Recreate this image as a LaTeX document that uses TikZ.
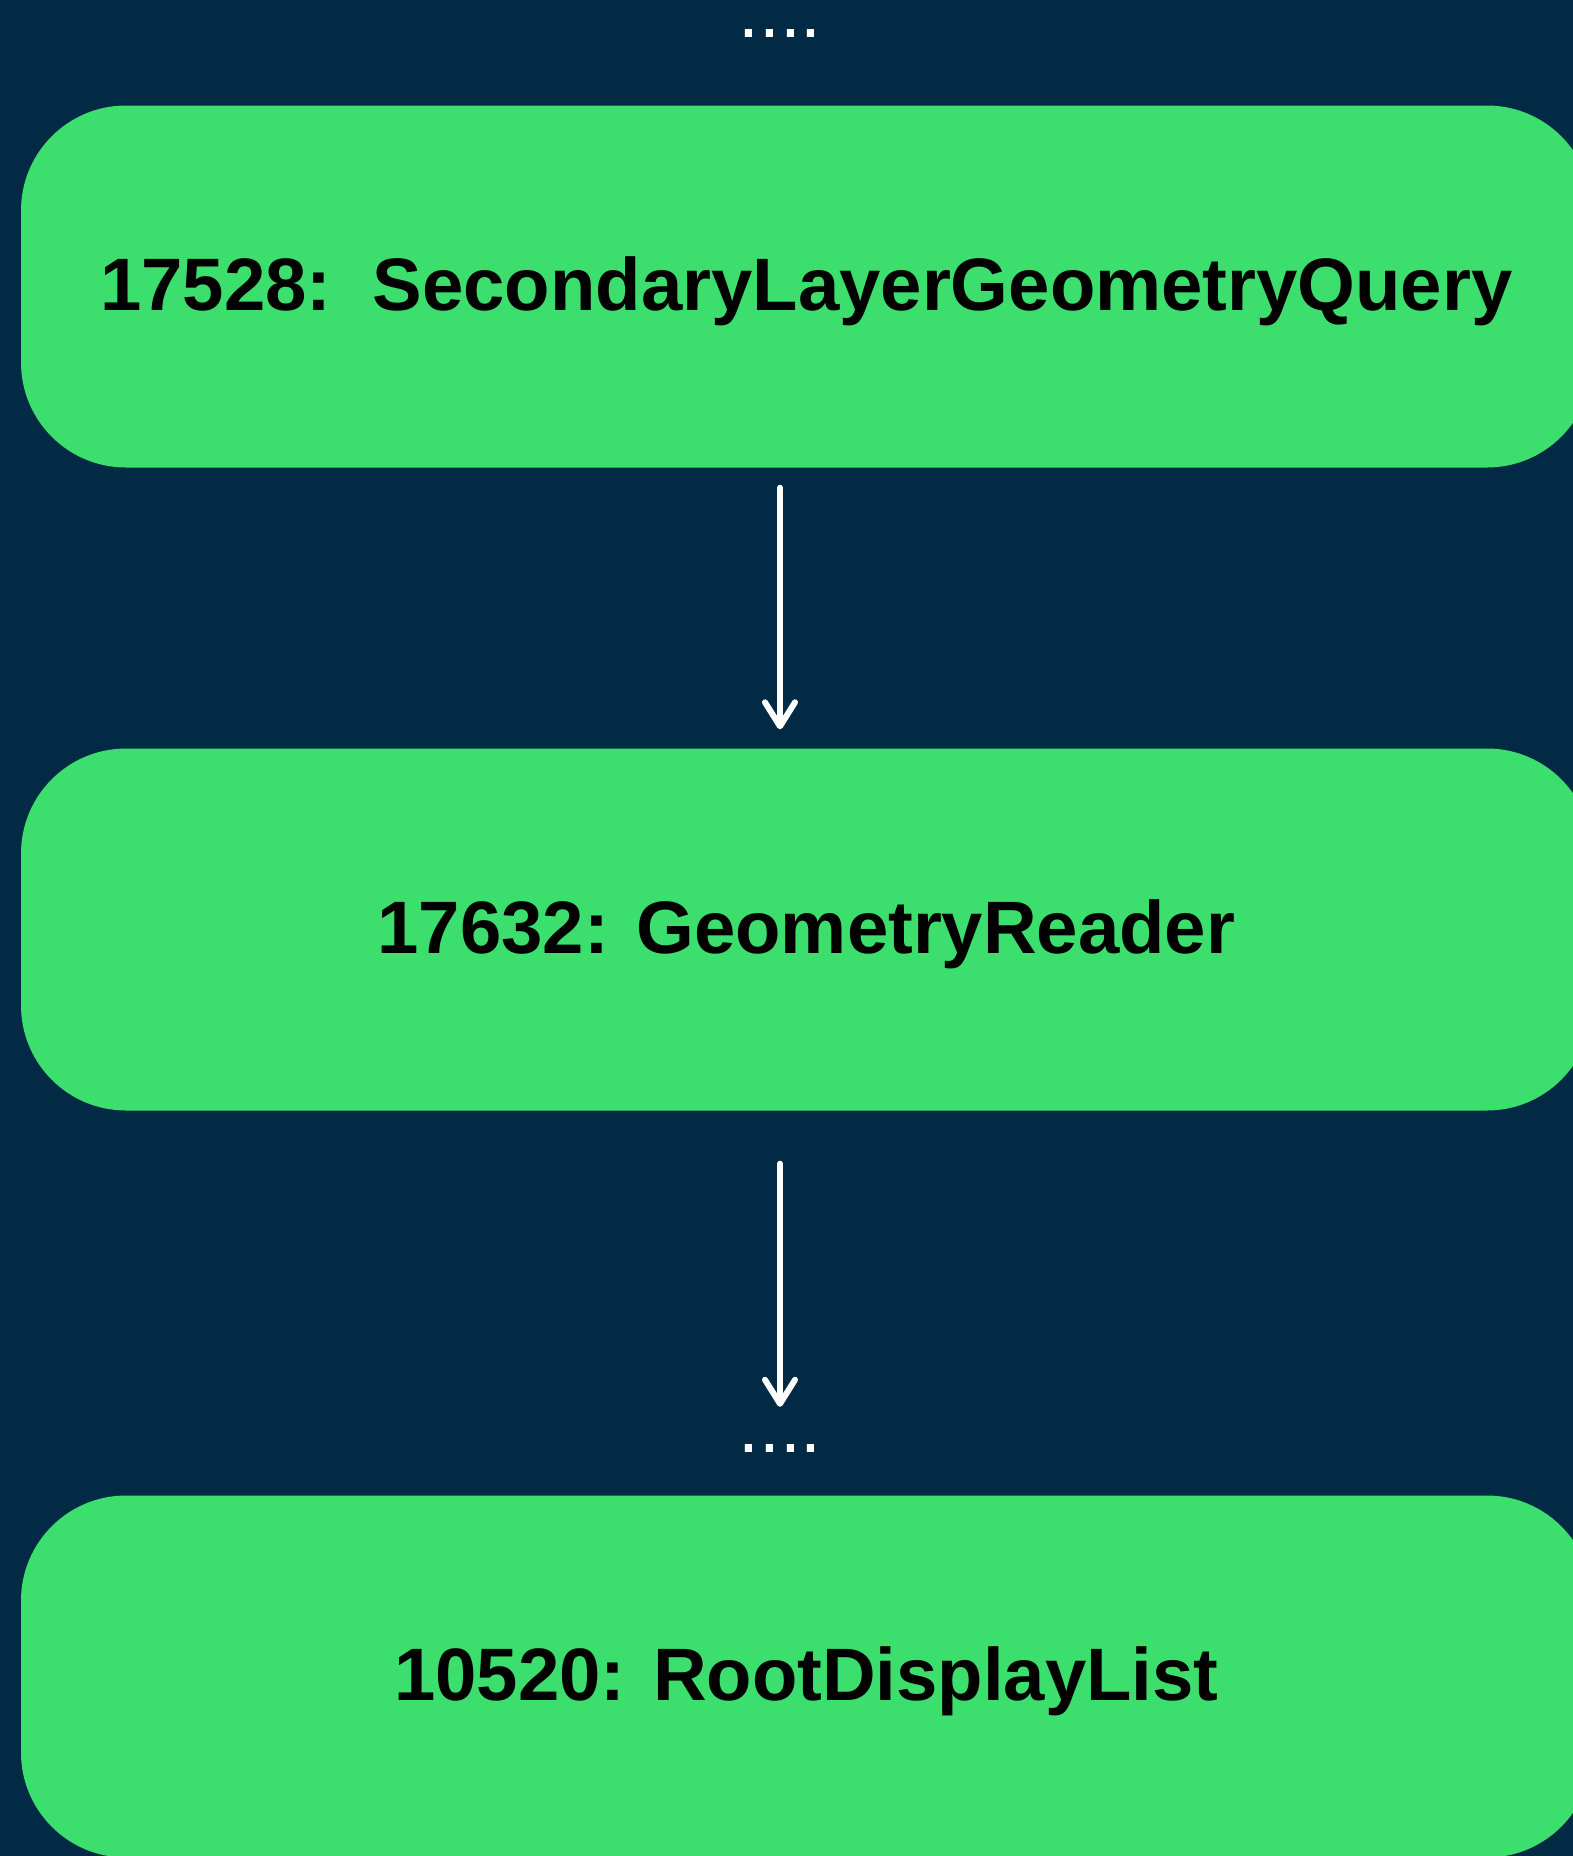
\documentclass[tikz,border=0pt]{standalone}
\usepackage{fontspec}
\setmainfont{Liberation Sans}
\usetikzlibrary{arrows.meta}
\definecolor{navy}{HTML}{022A44}
\definecolor{leaf}{HTML}{3CDF6E}
\tikzset{
  stage/.style={fill=leaf, draw=none, rounded corners=105pt, inner sep=0pt,
    minimum width=1571pt, minimum height=362pt,
    text height=54pt, text depth=7pt,
    font=\fontsize{74.3pt}{80pt}\selectfont\bfseries, text=black},
  ellipsis/.style={anchor=base, inner sep=0pt, text=white,
    font=\fontsize{75pt}{80pt}\selectfont},
  flow/.style={draw=white, line width=6pt, line cap=round,
    -{Straight Barb[length=24pt, width=30pt, round]}}
}
\begin{document}
\begin{tikzpicture}[x=1pt, y=-1pt]
  \fill[navy] (0,0) rectangle (1573,1856);
  \useasboundingbox (0,0) rectangle (1573,1856);

  \node[ellipsis] (top) at (780,37) {....};
  \node[stage] (q) at (806.5,286.5) {17528:\ \ SecondaryLayerGeometryQuery};
  \node[stage] (g) at (806.5,929.5) {17632: GeometryReader};
  \node[ellipsis] (gap) at (780,1452) {....};
  \node[stage] (r) at (806.5,1676.5) {10520: RootDisplayList};

  \draw[flow, shorten <=20pt, shorten >=19pt] (q.south -| top) -- (g.north -| top);
  \draw[flow, shorten <=53pt, shorten >=37pt] (g.south -| gap) -- (gap.north);
\end{tikzpicture}
\end{document}
